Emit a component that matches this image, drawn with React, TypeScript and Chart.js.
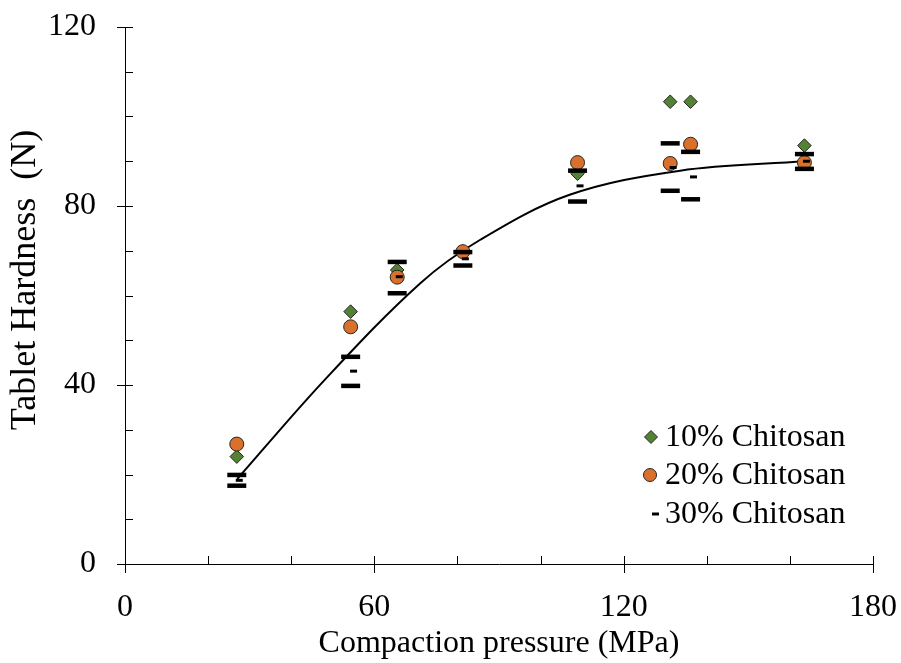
import React, { useEffect, useRef } from "react";
import { Chart, registerables } from "chart.js";

Chart.register(...registerables);

// ---------- data ----------
const pressure = [26.9, 54.3, 65.5, 81.3, 108.9, 131.2, 136.1, 163.5];
const chitosan10 = [24.0, 56.4, 65.7, 69.8, 87.2, 103.3, 103.3, 93.5];
const chitosan20 = [26.8, 53.0, 64.1, 69.8, 89.7, 89.5, 93.8, 89.7];
const pressure30 = [27.5, 55.0, 66.0, 81.9, 109.5, 131.9, 136.8, 164.0];
const chitosan30 = [18.7, 43.1, 64.2, 68.2, 84.5, 88.6, 86.5, 90.0];
const chitosan30High = [19.9, 46.3, 67.5, 69.7, 87.9, 94.0, 92.1, 91.6];
const chitosan30Low = [17.5, 39.8, 60.5, 66.7, 81.0, 83.4, 81.5, 88.3];

const fitX = [27, 48, 71, 85.4, 107, 133.6, 163.5];
const fitY = [19.0, 41.1, 62.7, 72.4, 82.5, 87.9, 90.0];

const xMajorTicks = [0, 60, 120, 180];
const xMinorTicks = [20, 40, 80, 100, 140, 160];
const yMajorTicks = [0, 40, 80, 120];
const yMinorTicks = [10, 20, 30, 50, 60, 70, 90, 100, 110];

const legendLabels = ["10% Chitosan", "20% Chitosan", "30% Chitosan"];
const yTitle = "Tablet Hardness  (N)";
const xTitle = "Compaction pressure (MPa)";

const GREEN = "#548235";
const ORANGE = "#D9702B";
const EDGE = "#262626";
const FONT = "'Liberation Serif', 'Times New Roman', serif";
const FONT_SIZE = 32;

const pts = (xs: number[], ys: number[]) => xs.map((x, i) => ({ x, y: ys[i] }));

const tickPlugin = {
  id: "customTicks",
  afterDraw(chart: any) {
    const ctx = chart.ctx;
    const xs = chart.scales.x;
    const ys = chart.scales.y;
    const x0 = chart.chartArea.left;
    const y0 = chart.chartArea.bottom;
    ctx.save();
    ctx.strokeStyle = "#000";
    ctx.lineWidth = 1;
    ctx.beginPath();
    xMajorTicks.forEach((v) => {
      const p = Math.round(xs.getPixelForValue(v)) + 0.5;
      ctx.moveTo(p, y0 - 8);
      ctx.lineTo(p, y0 + 9);
    });
    xMinorTicks.forEach((v) => {
      const p = Math.round(xs.getPixelForValue(v)) + 0.5;
      ctx.moveTo(p, y0 - 8);
      ctx.lineTo(p, y0);
    });
    yMajorTicks.forEach((v) => {
      const p = Math.round(ys.getPixelForValue(v)) + 0.5;
      ctx.moveTo(x0 - 8, p);
      ctx.lineTo(x0 + 8, p);
    });
    yMinorTicks.forEach((v) => {
      const p = Math.round(ys.getPixelForValue(v)) + 0.5;
      ctx.moveTo(x0, p);
      ctx.lineTo(x0 + 8, p);
    });
    ctx.stroke();
    // y-axis title
    ctx.translate(26, chart.chartArea.top + 253);
    ctx.rotate(-Math.PI / 2);
    ctx.fillStyle = "#000";
    ctx.font = `36px ${FONT}`;
    ctx.textAlign = "center";
    ctx.textBaseline = "middle";
    ctx.fillText(yTitle, 0, 0);
    ctx.restore();
  },
};

const legendPlugin = {
  id: "customLegend",
  afterDraw(chart: any) {
    const ctx = chart.ctx;
    const ca = chart.chartArea;
    const mx = ca.left + 526;
    const tx = ca.left + 540;
    const rows = [ca.top + 410, ca.top + 448, ca.top + 487];
    ctx.save();
    // diamond
    ctx.beginPath();
    ctx.moveTo(mx, rows[0] - 6.5);
    ctx.lineTo(mx + 6.5, rows[0]);
    ctx.lineTo(mx, rows[0] + 6.5);
    ctx.lineTo(mx - 6.5, rows[0]);
    ctx.closePath();
    ctx.fillStyle = GREEN;
    ctx.fill();
    ctx.strokeStyle = EDGE;
    ctx.lineWidth = 1;
    ctx.stroke();
    // circle
    ctx.beginPath();
    ctx.arc(mx - 1, rows[1], 6.5, 0, Math.PI * 2);
    ctx.fillStyle = ORANGE;
    ctx.fill();
    ctx.stroke();
    // dash
    ctx.beginPath();
    ctx.moveTo(mx + 1, rows[2]);
    ctx.lineTo(mx + 8, rows[2]);
    ctx.lineWidth = 3;
    ctx.strokeStyle = "#000";
    ctx.stroke();
    ctx.fillStyle = "#000";
    ctx.font = `${FONT_SIZE}px ${FONT}`;
    ctx.textBaseline = "middle";
    ctx.textAlign = "left";
    legendLabels.forEach((t, i) => ctx.fillText(t, tx, rows[i] + 1));
    ctx.restore();
  },
};

export default function App() {
  const ref = useRef<HTMLCanvasElement | null>(null);
  useEffect(() => {
    document.body.style.margin = "0";
    if (!ref.current) return;
    const chart = new Chart(ref.current, {
      type: "scatter",
      data: {
        datasets: [
          {
            type: "line",
            label: "fit",
            data: pts(fitX, fitY),
            borderColor: "#000",
            borderWidth: 2,
            pointRadius: 0,
            tension: 0.35,
            fill: false,
            order: 6,
          } as any,
          {
            label: legendLabels[0],
            data: pts(pressure, chitosan10),
            pointStyle: "rectRot",
            pointRadius: 6.8,
            backgroundColor: GREEN,
            borderColor: EDGE,
            borderWidth: 1,
            order: 5,
          },
          {
            label: legendLabels[1],
            data: pts(pressure, chitosan20),
            pointStyle: "circle",
            pointRadius: 7,
            backgroundColor: ORANGE,
            borderColor: EDGE,
            borderWidth: 1,
            order: 4,
          },
          {
            label: "30% high",
            data: pts(pressure, chitosan30High),
            pointStyle: "line",
            pointRadius: 9.5,
            borderColor: "#000",
            borderWidth: 4.5,
            order: 3,
          },
          {
            label: "30% low",
            data: pts(pressure, chitosan30Low),
            pointStyle: "line",
            pointRadius: 9.5,
            borderColor: "#000",
            borderWidth: 4.5,
            order: 2,
          },
          {
            label: legendLabels[2],
            data: pts(pressure30, chitosan30),
            pointStyle: "line",
            pointRadius: 3.5,
            borderColor: "#000",
            borderWidth: 3,
            order: 1,
          },
        ],
      },
      options: {
        animation: false,
        responsive: false,
        maintainAspectRatio: false,
        layout: { padding: { left: 0, right: 28, top: 27, bottom: 0 } },
        plugins: {
          legend: { display: false },
          tooltip: { enabled: false },
        },
        scales: {
          x: {
            type: "linear",
            min: 0,
            max: 180,
            afterBuildTicks: (s: any) => {
              s.ticks = xMajorTicks.map((v) => ({ value: v }));
            },
            afterFit: (s: any) => {
              s.height = 99;
              s.paddingLeft = 0;
              s.paddingRight = 0;
            },
            grid: { display: false, drawTicks: false },
            border: { display: true, color: "#000", width: 1 },
            ticks: {
              padding: 24,
              color: "#000",
              font: { family: FONT, size: FONT_SIZE },
              maxRotation: 0,
            },
            title: {
              display: true,
              text: xTitle,
              color: "#000",
              font: { family: FONT, size: FONT_SIZE },
              padding: { top: 0, bottom: 0 },
            },
          },
          y: {
            type: "linear",
            min: 0,
            max: 120,
            afterBuildTicks: (s: any) => {
              s.ticks = yMajorTicks.map((v) => ({ value: v }));
            },
            afterFit: (s: any) => {
              s.width = 125;
              s.paddingTop = 0;
              s.paddingBottom = 0;
            },
            grid: { display: false, drawTicks: false },
            border: { display: true, color: "#000", width: 1 },
            ticks: {
              padding: 29,
              color: "#000",
              font: { family: FONT, size: FONT_SIZE },
            },
            title: { display: false },
          },
        },
      },
      plugins: [tickPlugin, legendPlugin],
    } as any);
    return () => chart.destroy();
  }, []);
  return (
    <div style={{ position: "fixed", left: 0, top: 0, width: 901, height: 663, background: "#fff" }}>
      <canvas ref={ref} width={901} height={663} style={{ width: 901, height: 663 }} />
    </div>
  );
}
